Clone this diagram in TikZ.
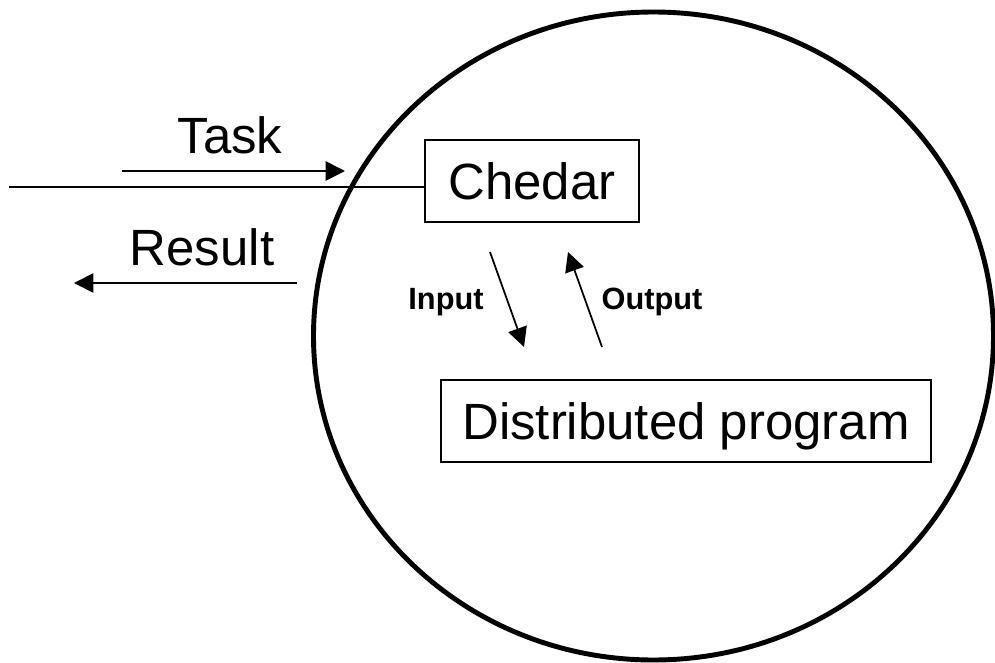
\documentclass[tikz,border=0pt]{standalone}
\usepackage{fontspec}
\setmainfont{Liberation Sans}
\usetikzlibrary{arrows.meta,positioning}

\begin{document}
\begin{tikzpicture}[
  x=0.02cm,y=-0.02cm,
  every node/.style={font=\fontsize{29}{34}\selectfont},
  box/.style={draw,line width=1pt,inner sep=0pt,minimum height=1.64cm,text height=20.8pt,text depth=0pt},
  lbl/.style={font=\bfseries\fontsize{17.5}{21}\selectfont,anchor=base},
  arr/.style={-{Triangle[length=11pt,width=11pt]},line width=1pt}
]
\useasboundingbox (0,0) rectangle (995,663);
% system boundary
\draw[line width=2.8pt] (653.5,336) ellipse [x radius=340,y radius=324];
\node[box,minimum width=4.28cm] (chedar) at (532,181) {Chedar};
\node[box,minimum width=9.8cm] (dist) at (686,421) {Distributed program};
% outside world
\node[anchor=base] (task) at (230,153) {Task};
\node[anchor=base] (result) at (202,265) {Result};
\coordinate (tk1) at (122,171);
\coordinate (tk2) at (345,171);
\coordinate (rs1) at (297,283);
\coordinate (rs2) at (74,283);
\coordinate (ext) at (9,187);
\draw[arr] (tk1)--(tk2);
\draw[arr] (rs1)--(rs2);
\draw[line width=1pt] (ext)--(ext -| chedar.west);
% inner exchange
\coordinate (in1) at (490,252);
\coordinate (in2) at (524,347);
\coordinate (out1) at (602,347);
\coordinate (out2) at (568,252);
\draw[arr] (in1)--(in2);
\draw[arr] (out1)--(out2);
\node[lbl] (input) at (446,309) {Input};
\node[lbl] (output) at (652,309) {Output};
\end{tikzpicture}
\end{document}
